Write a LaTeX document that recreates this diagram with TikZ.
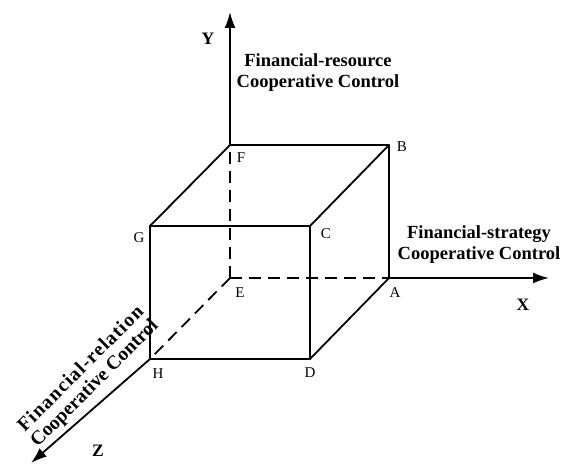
\documentclass[tikz,border=0pt]{standalone}
\usepackage{fontspec}
\setmainfont{Liberation Serif}
\newfontfamily\spacedserif[LetterSpace=6]{Liberation Serif}
\usetikzlibrary{arrows.meta}
\begin{document}
\begin{tikzpicture}[x=1pt,y=-1pt,
  edge/.style={line width=1.8pt, line cap=round, line join=round},
  hidden/.style={line width=1.8pt, dash pattern=on 12pt off 7pt},
  axis/.style={line width=1.8pt, -{Latex[length=16pt,width=11pt]}},
  vlabel/.style={font=\fontsize{15}{17}\selectfont, inner sep=0pt},
  axlabel/.style={font=\bfseries\fontsize{17.5}{20}\selectfont, inner sep=0pt},
  title/.style={font=\bfseries\fontsize{18.5}{21}\selectfont, align=center, inner sep=0pt},
  rtitle/.style={font=\bfseries\fontsize{19.5}{22}\selectfont, inner sep=0pt, rotate=45}]
\useasboundingbox (0,0) rectangle (563,465);
% cube corners
\coordinate (E) at (230,278);
\coordinate (F) at (230,145);
\coordinate (B) at (389,145);
\coordinate (A) at (389,278);
\coordinate (G) at (150,226);
\coordinate (C) at (310,226);
\coordinate (H) at (150,359);
\coordinate (D) at (310,359);
\coordinate (Ytip) at (230,12);
\coordinate (Xtip) at (549,278);
\coordinate (Ztip) at (31,463);
% hidden edges
\draw[hidden] (E) -- (F);
\draw[hidden] (E) -- (A);
\draw[hidden] (E) -- (H);
% visible edges
\draw[edge] (F) -- (B) -- (A) -- (D) -- (H) -- (G) -- (F);
\draw[edge] (G) -- (C) -- (D);
\draw[edge] (C) -- (B);
% axes
\draw[axis] (F) -- (Ytip);
\draw[axis] (A) -- (Xtip);
\draw[axis] (H) -- (Ztip);
% vertex labels
\node[vlabel] (lF) at (241,158) {F};
\node[vlabel] (lB) at (402,147) {B};
\node[vlabel] (lG) at (139,238) {G};
\node[vlabel] (lC) at (326,234) {C};
\node[vlabel] (lE) at (240,293) {E};
\node[vlabel] (lA) at (395,293) {A};
\node[vlabel] (lH) at (158,374) {H};
\node[vlabel] (lD) at (310,373) {D};
% axis labels
\node[axlabel] (lY) at (208,39) {Y};
\node[axlabel] (lX) at (523,305) {X};
\node[axlabel] (lZ) at (98,451) {Z};
% titles
\node[title] (tY) at (318,73) {Financial-resource\\Cooperative Control};
\node[title] (tX) at (479,245) {Financial-strategy\\Cooperative Control};
\node[rtitle] (tZa) at (80,368) {\spacedserif Financial-relation};
\node[rtitle] (tZb) at (95,384) {Cooperative Control};
\end{tikzpicture}
\end{document}
